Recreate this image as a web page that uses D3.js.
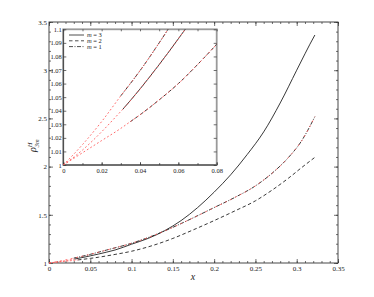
<!DOCTYPE html>
<html>
<head>
<meta charset="utf-8">
<script src="https://cdn.jsdelivr.net/npm/d3@7"></script>
<style>
body { margin: 0; background: #fff; }
text { font-family: "Liberation Serif", "DejaVu Serif", serif; fill: #222; }
</style>
</head>
<body>
<div class="canva"></div>
<script>
// tick labels
const xTicks = [0, 0.05, 0.1, 0.15, 0.2, 0.25, 0.3, 0.35];
const yTicks = [1, 1.5, 2, 2.5, 3, 3.5];
const insetXTicks = [0, 0.02, 0.04, 0.06, 0.08];
const insetYTicks = [1, 1.01, 1.02, 1.03, 1.04, 1.05, 1.06, 1.07, 1.08, 1.09, 1.1];
const legendLabels = ['3', '2', '1'];

// m = 3 (solid)
const m3X = [0, 0.01, 0.02, 0.03, 0.031, 0.04, 0.05, 0.06, 0.07, 0.08, 0.1, 0.12, 0.14, 0.16, 0.18, 0.2, 0.22, 0.24, 0.26, 0.28, 0.30, 0.31, 0.316, 0.322];
const m3Y = [1, 1.011, 1.0245, 1.0395, 1.041, 1.056, 1.074, 1.093, 1.113, 1.135, 1.195, 1.255, 1.335, 1.44, 1.575, 1.735, 1.915, 2.125, 2.36, 2.66, 3.0, 3.17, 3.27, 3.365];
// m = 2 (dashed)
const m2X = [0, 0.01, 0.02, 0.03, 0.035, 0.04, 0.05, 0.06, 0.07, 0.08, 0.1, 0.125, 0.15, 0.175, 0.2, 0.225, 0.25, 0.27, 0.29, 0.306, 0.322];
const m2Y = [1, 1.009, 1.018, 1.027, 1.032, 1.037, 1.048, 1.06, 1.074, 1.089, 1.122, 1.18, 1.255, 1.345, 1.44, 1.54, 1.645, 1.755, 1.88, 1.99, 2.096];
// m = 1 (dash-dot)
const m1X = [0, 0.01, 0.02, 0.03, 0.04, 0.05, 0.07, 0.1, 0.125, 0.15, 0.175, 0.2, 0.225, 0.25, 0.27, 0.29, 0.305, 0.322];
const m1Y = [1, 1.015, 1.032, 1.051, 1.0695, 1.09, 1.135, 1.205, 1.28, 1.37, 1.47, 1.575, 1.68, 1.8, 1.93, 2.095, 2.255, 2.518];
// where the black (exact) curves begin
const exactStart = [0.031, 0.035, 0.03];

const svg = d3.select('.canva').append('svg')
.attr('width', 374)
.attr('height', 297);

const x = d3.scaleLinear().domain([0, 0.35]).range([49, 338]);
const y = d3.scaleLinear().domain([1, 3.5]).range([263, 22]);
const ix = d3.scaleLinear().domain([0, 0.08]).range([63.3, 216.7]);
const iy = d3.scaleLinear().domain([1, 1.1]).range([165, 29.3]);

const series = [
  {xs: m3X, ys: m3Y, dash: null},
  {xs: m2X, ys: m2Y, dash: '3.5,2.5'},
  {xs: m1X, ys: m1Y, dash: '4,1.5,1,1.5'}
];
series.forEach((s, i) => {
  s.pts = d3.zip(s.xs, s.ys);
  s.exact = s.pts.filter(p => p[0] >= exactStart[i]);
  s.approx = s.pts.filter(p => p[0] <= exactStart[i]);
});

function styleAxis(g, fs) {
  g.select('.domain').remove();
  g.selectAll('line').attr('stroke', '#333').attr('stroke-width', 0.7);
  g.selectAll('text').attr('font-size', fs).style('fill', '#222');
}

// MAIN AXES ______________________________________
svg.append('g').attr('transform', 'translate(0,263)')
.call(d3.axisBottom(x).tickValues(xTicks).tickSize(-4).tickPadding(3).tickFormat(d => d))
.call(g => styleAxis(g, 7));
svg.append('g').attr('transform', 'translate(0,263)')
.call(d3.axisBottom(x).tickValues(d3.range(0, 0.351, 0.01)).tickSize(-2).tickFormat(''))
.call(g => styleAxis(g, 7));
svg.append('g').attr('transform', 'translate(0,22)')
.call(d3.axisTop(x).tickValues(xTicks).tickSize(-4).tickFormat(''))
.call(g => styleAxis(g, 7));
svg.append('g').attr('transform', 'translate(0,22)')
.call(d3.axisTop(x).tickValues(d3.range(0, 0.351, 0.01)).tickSize(-2).tickFormat(''))
.call(g => styleAxis(g, 7));

svg.append('g').attr('transform', 'translate(49,0)')
.call(d3.axisLeft(y).tickValues(yTicks).tickSize(-4).tickPadding(2).tickFormat(d => d))
.call(g => styleAxis(g, 7));
svg.append('g').attr('transform', 'translate(49,0)')
.call(d3.axisLeft(y).tickValues(d3.range(1, 3.501, 0.1)).tickSize(-2).tickFormat(''))
.call(g => styleAxis(g, 7));
svg.append('g').attr('transform', 'translate(338,0)')
.call(d3.axisRight(y).tickValues(yTicks).tickSize(-4).tickFormat(''))
.call(g => styleAxis(g, 7));
svg.append('g').attr('transform', 'translate(338,0)')
.call(d3.axisRight(y).tickValues(d3.range(1, 3.501, 0.1)).tickSize(-2).tickFormat(''))
.call(g => styleAxis(g, 7));

svg.append('rect')
.attr('x', x(0)).attr('y', y(3.5))
.attr('width', x(0.35) - x(0)).attr('height', y(1) - y(3.5))
.attr('fill', 'none').attr('stroke', '#333').attr('stroke-width', 0.9);

// MAIN CURVES ____________________________________
const line = d3.line().x(d => x(d[0])).y(d => y(d[1])).curve(d3.curveMonotoneX);

// red approximations under black for m=3, m=2
[0, 1].forEach(i => {
  svg.append('path').attr('d', line(series[i].approx))
  .attr('fill', 'none').attr('stroke', '#ff5c5c').attr('stroke-width', 0.8)
  .attr('stroke-dasharray', '2,1.5');
});
series.forEach(s => {
  svg.append('path').attr('d', line(s.exact))
  .attr('fill', 'none').attr('stroke', '#222').attr('stroke-width', 0.9)
  .attr('stroke-dasharray', s.dash);
});
// red approximation for m=1 over the whole range
svg.append('path').attr('d', line(series[2].pts))
.attr('fill', 'none').attr('stroke', '#ff5c5c').attr('stroke-width', 0.8)
.attr('stroke-dasharray', '2,3.5');

// labels
svg.append('text')
.attr('x', 193).attr('y', 280)
.attr('font-size', 10).attr('font-style', 'italic')
.attr('text-anchor', 'middle')
.text('x');

const yl = svg.append('text')
.attr('transform', 'translate(36,152) rotate(-90)')
.attr('font-style', 'italic');
yl.append('tspan').attr('font-size', 10).text('ρ');
yl.append('tspan').attr('font-size', 6.5).attr('dy', -4).text('H');
yl.append('tspan').attr('font-size', 6.5).attr('dx', -4.7).attr('dy', 7).text('3m');

// INSET __________________________________________
svg.append('rect')
.attr('x', ix(0)).attr('y', iy(1.1))
.attr('width', ix(0.08) - ix(0)).attr('height', iy(1) - iy(1.1))
.attr('fill', '#fff').attr('stroke', '#9a9a9a').attr('stroke-width', 1.8);

svg.append('defs').append('clipPath').attr('id', 'insetclip')
.append('rect')
.attr('x', ix(0)).attr('y', iy(1.1))
.attr('width', ix(0.08) - ix(0)).attr('height', iy(1) - iy(1.1));

svg.append('g').attr('transform', 'translate(0,165)')
.call(d3.axisBottom(ix).tickValues(insetXTicks).tickSize(-3).tickPadding(3).tickFormat(d => d))
.call(g => styleAxis(g, 6.5));
svg.append('g').attr('transform', 'translate(0,165)')
.call(d3.axisBottom(ix).tickValues(d3.range(0, 0.081, 0.01)).tickSize(-2).tickFormat(''))
.call(g => styleAxis(g, 6.5));
svg.append('g').attr('transform', 'translate(0,' + iy(1.1) + ')')
.call(d3.axisTop(ix).tickValues(d3.range(0, 0.081, 0.01)).tickSize(-2).tickFormat(''))
.call(g => styleAxis(g, 6.5));
svg.append('g').attr('transform', 'translate(63.3,0)')
.call(d3.axisLeft(iy).tickValues(insetYTicks).tickSize(-3).tickPadding(1.5).tickFormat(d => d))
.call(g => styleAxis(g, 6.5));
svg.append('g').attr('transform', 'translate(216.7,0)')
.call(d3.axisRight(iy).tickValues(insetYTicks).tickSize(-3).tickFormat(''))
.call(g => styleAxis(g, 6.5));

svg.append('line').attr('x1', 63.3).attr('x2', 63.3).attr('y1', iy(1.1)).attr('y2', 165)
.attr('stroke', '#333').attr('stroke-width', 0.9);
svg.append('line').attr('x1', 63.3).attr('x2', 216.7).attr('y1', 165).attr('y2', 165)
.attr('stroke', '#333').attr('stroke-width', 0.9);

const iline = d3.line().x(d => ix(d[0])).y(d => iy(d[1])).curve(d3.curveMonotoneX);
const ig = svg.append('g').attr('clip-path', 'url(#insetclip)');
series.forEach(s => {
  ig.append('path').attr('d', iline(s.exact))
  .attr('fill', 'none').attr('stroke', '#222').attr('stroke-width', 0.9)
  .attr('stroke-dasharray', s.dash);
});
series.forEach(s => {
  ig.append('path').attr('d', iline(s.pts))
  .attr('fill', 'none').attr('stroke', '#ff5c5c').attr('stroke-width', 0.9)
  .attr('stroke-dasharray', '1.8,2.2');
});

// legend
legendLabels.forEach((lab, i) => {
  const ly = 35 + i * 5.8;
  svg.append('line')
  .attr('x1', 69).attr('x2', 84).attr('y1', ly).attr('y2', ly)
  .attr('stroke', '#222').attr('stroke-width', 0.8)
  .attr('stroke-dasharray', series[i].dash);
  const t = svg.append('text').attr('x', 87).attr('y', ly + 2).attr('font-size', 6.5);
  t.append('tspan').attr('font-style', 'italic').text('m');
  t.append('tspan').text(' = ' + lab);
});
</script>
</body>
</html>
